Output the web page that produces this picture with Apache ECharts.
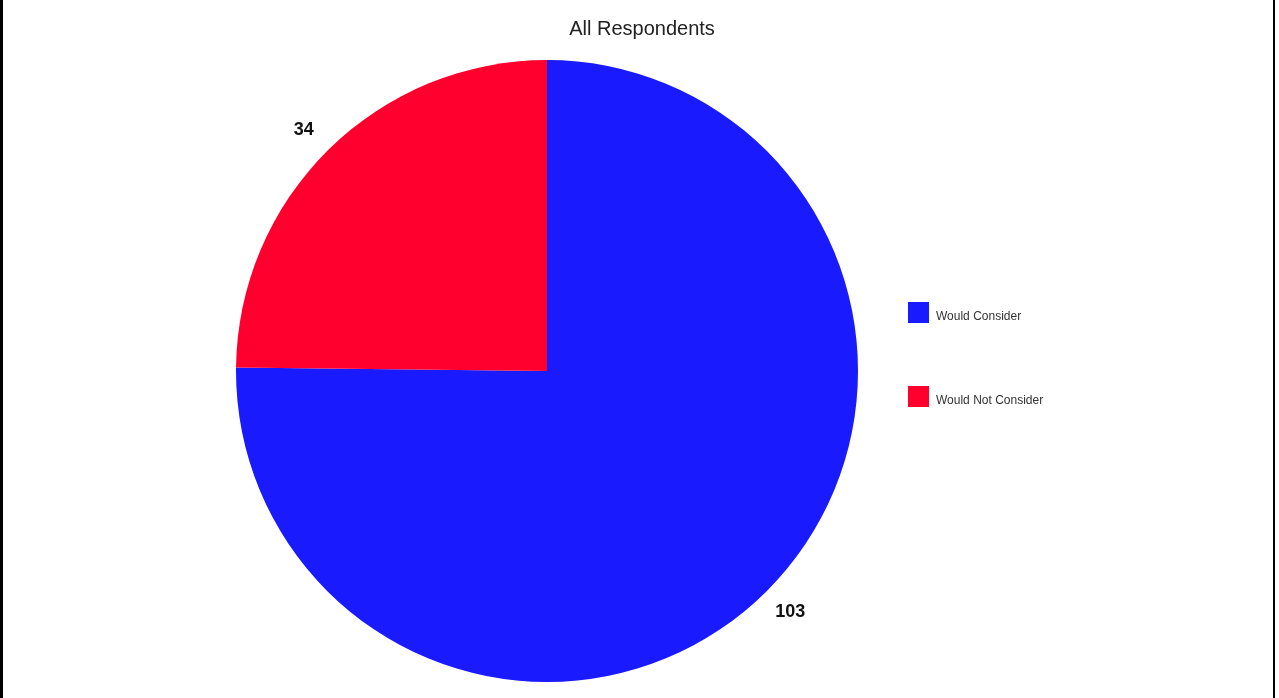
<!DOCTYPE html>
<html>
<head>
<meta charset="utf-8">
<script src="https://cdn.jsdelivr.net/npm/echarts@6/dist/echarts.min.js"></script>
<style>
  html, body { margin: 0; padding: 0; background: #fff; }
  #main {
    width: 1275px;
    height: 698px;
    border-left: 3px solid #000;
    border-right: 2px solid #000;
    box-sizing: border-box;
  }
</style>
</head>
<body>
<div id="main"></div>
<script>
// 数据
var categories = ['Would Consider', 'Would Not Consider'];
var counts = [103, 34];
var colors = ['#1a1aff', '#ff002e'];

var myChart = echarts.init(document.getElementById('main'));

var option = {
  animation: false,
  title: {
    text: 'All Respondents',
    left: 634,
    top: 14,
    textAlign: 'center',
    textStyle: {
      fontFamily: 'Liberation Sans, Arial, sans-serif',
      fontSize: 20,
      fontWeight: 'normal',
      color: '#222'
    }
  },
  legend: {
    orient: 'vertical',
    left: 900,
    top: 297,
    icon: 'rect',
    itemWidth: 21,
    itemHeight: 21,
    itemGap: 63,
    data: categories,
    formatter: '{t|{name}}',
    textStyle: {
      fontFamily: 'Liberation Sans, Arial, sans-serif',
      fontSize: 12,
      color: '#333',
      rich: {
        t: {
          fontFamily: 'Liberation Sans, Arial, sans-serif',
          fontSize: 12,
          color: '#333',
          padding: [8, 0, 0, 2]
        }
      }
    }
  },
  series: [{
    type: 'pie',
    center: [544, 371],
    radius: 311,
    startAngle: 90,
    clockwise: true,
    label: {
      show: true,
      position: 'outside',
      formatter: '{c}',
      fontFamily: 'Liberation Sans, Arial, sans-serif',
      fontSize: 18,
      fontWeight: 'bold',
      color: '#111'
    },
    labelLine: { show: false, length: 28, length2: 0 },
    labelLayout: function () {
      return { align: 'center' };
    },
    itemStyle: { borderWidth: 0 },
    emphasis: { disabled: true },
    data: categories.map(function (name, i) {
      return { name: name, value: counts[i], itemStyle: { color: colors[i] } };
    })
  }]
};

myChart.setOption(option);
</script>
</body>
</html>
